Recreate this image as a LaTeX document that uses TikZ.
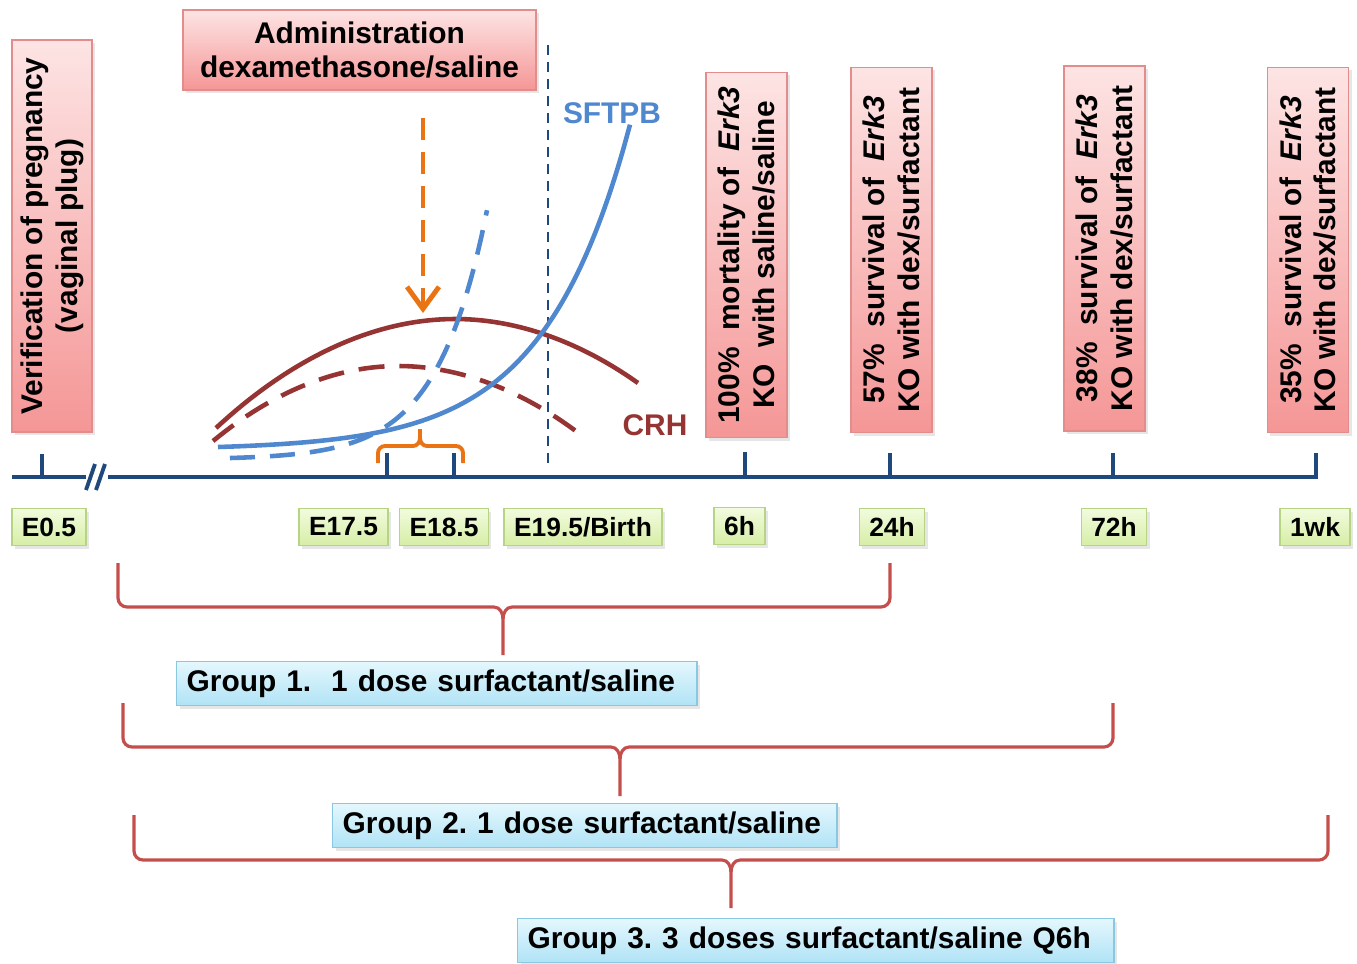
\documentclass[tikz,border=0pt]{standalone}
\usepackage{fontspec}
\setmainfont{Liberation Sans}
\frenchspacing
\usetikzlibrary{arrows.meta,shadows}
\definecolor{axisblue}{RGB}{31,73,125}
\definecolor{crhred}{RGB}{149,52,50}
\definecolor{sftblue}{RGB}{79,136,206}
\definecolor{doseorange}{RGB}{234,116,20}
\definecolor{bracered}{RGB}{196,78,76}
\definecolor{pinklite}{RGB}{253,228,228}
\definecolor{pinkdark}{RGB}{245,150,150}
\definecolor{pinkline}{RGB}{226,140,140}
\definecolor{greenlite}{RGB}{242,251,222}
\definecolor{greendark}{RGB}{214,238,166}
\definecolor{greenline}{RGB}{182,212,132}
\definecolor{bluelite}{RGB}{228,247,253}
\definecolor{bluedark}{RGB}{176,227,246}
\definecolor{blueline}{RGB}{138,200,226}
\newcommand{\boxfont}{\fontsize{8.5}{9.9}\selectfont\bfseries}
\newcommand{\dayfont}{\fontsize{7.5}{9}\selectfont\bfseries}
\tikzset{
  pinkbox/.style={draw=pinkline,top color=pinklite,bottom color=pinkdark,
    align=center,font=\boxfont,inner sep=0pt,
    drop shadow={opacity=0.2,shadow xshift=0.03cm,shadow yshift=-0.03cm}},
  outbox/.style={pinkbox,rotate=90,minimum width=3.65cm,minimum height=0.81cm},
  daybox/.style={draw=greenline,top color=greenlite,bottom color=greendark,
    font=\dayfont,inner xsep=0.1cm,inner ysep=0pt,minimum height=0.37cm,
    drop shadow={opacity=0.2,shadow xshift=0.03cm,shadow yshift=-0.03cm}},
  grpbox/.style={draw=blueline,top color=bluelite,bottom color=bluedark,
    font=\boxfont,align=left,anchor=north west,inner xsep=0.1cm,inner ysep=0pt,
    minimum height=0.44cm,
    drop shadow={opacity=0.2,shadow xshift=0.03cm,shadow yshift=-0.03cm}},
  axis/.style={axisblue,line width=1.1pt},
  grpbrace/.style={bracered,line width=0.9pt},
  dose/.style={doseorange,line width=1.4pt}
}
\begin{document}
\begin{tikzpicture}[x=0.01cm,y=-0.01cm]
\useasboundingbox (0,0) rectangle (1357,963);

% top boxes
\node[pinkbox,rotate=90,minimum width=3.92cm,minimum height=0.8cm] (verif) at (52,236) {Verification of pregnancy\\(vaginal plug)};
\node[pinkbox,minimum width=3.53cm,minimum height=0.8cm] (admin) at (359.5,50) {Administration\\dexamethasone/saline};

% outcomes
\node[outbox] (out6) at (746.5,255) {100\%\ \ mortality of\ \ \textit{Erk3}\\KO\ \ with saline/saline};
\node[outbox] (out24) at (891.5,250) {57\%\ \ survival of\ \ \textit{Erk3}\\KO with dex/surfactant};
\node[outbox] (out72) at (1104.5,248.5) {38\%\ \ survival of\ \ \textit{Erk3}\\KO with dex/surfactant};
\node[outbox] (out1wk) at (1308,250) {35\%\ \ survival of\ \ \textit{Erk3}\\KO with dex/surfactant};

% birth
\draw[axisblue,line width=0.6pt,dash pattern=on 0.1cm off 0.07cm] (548,45) -- (548,470);

% curves
\draw[crhred,line width=1.3pt] (216,428) parabola bend (455,319) (638,383);
\draw[crhred,line width=1.3pt,dash pattern=on 0.26cm off 0.15cm] (213,441) parabola bend (398,366) (585,438);
\draw[sftblue,line width=1.3pt] plot[domain=218:630,samples=60,smooth] (\x,{447-2.7*(exp((\x-218)/86)-1)});
\draw[sftblue,line width=1.3pt,dash pattern=on 0.25cm off 0.15cm] plot[domain=230:487,samples=50,smooth] (\x,{458-1.46*(exp((\x-230)/50)-1)});
\node[sftblue,font=\boxfont] (sftpb) at (612,113) {SFTPB};
\node[crhred,font=\boxfont] (crh) at (655,425) {CRH};

% dexamethasone
\coordinate (dex) at (423,118);
\coordinate (dexend) at (423,313);
\draw[dose,dash pattern=on 0.22cm off 0.12cm,-{Straight Barb[length=0.22cm,width=0.32cm]}] (dex) -- (dexend);
\draw[dose,line width=1.1pt] (378,463) -- (378,453) to[out=90,in=180] (385,446) -- (413,446) to[out=0,in=-90] (420,438) -- (420,429);
\draw[dose,line width=1.1pt] (463,463) -- (463,453) to[out=90,in=0] (456,446) -- (427,446) to[out=180,in=-90] (420,438);

% timeline
\draw[axis] (12,477) -- (86,477);
\draw[axis] (108,477) -- (1316,477) -- (1316,453);
\draw[axis] (86,490) -- (95,464) (96,490) -- (105,464);
\draw[axis] (42,477) -- (42,454);
\draw[axis] (387,477) -- (387,453);
\draw[axis] (454,477) -- (454,453);
\draw[axis] (745,477) -- (745,452);
\draw[axis] (890,477) -- (890,453);
\draw[axis] (1113,477) -- (1113,453);

\node[daybox] (e05) at (49,527) {E0.5};
\node[daybox] (e175) at (343.5,527) {E17.5};
\node[daybox] (e185) at (444,527) {E18.5};
\node[daybox] (e195) at (583,527) {E19.5/Birth};
\node[daybox] (h6) at (739.5,526) {6h};
\node[daybox] (h24) at (892,527) {24h};
\node[daybox] (h72) at (1114,527) {72h};
\node[daybox] (wk1) at (1315,527) {1wk};

% groups
\node[grpbox,text width=5cm] (g1) at (176,661) {Group 1.\ \ 1 dose surfactant/saline};
\node[grpbox,text width=4.84cm] (g2) at (332,803) {Group 2. 1 dose surfactant/saline};
\node[grpbox,text width=5.76cm] (g3) at (517,918) {Group 3. 3 doses surfactant/saline Q6h};

\coordinate (b1) at (503,619);
\draw[grpbrace] (118,563) -- (118,598) to[out=-90,in=180] (127,607) -- (494,607) to[out=0,in=90] (b1) -- ([yshift=0.06cm]b1 |- g1.north);
\draw[grpbrace] (890,563) -- (890,598) to[out=-90,in=0] (881,607) -- (512,607) to[out=180,in=90] (b1);
\coordinate (b2) at (620,759);
\draw[grpbrace] (123,703) -- (123,738) to[out=-90,in=180] (132,747) -- (611,747) to[out=0,in=90] (b2) -- ([yshift=0.07cm]b2 |- g2.north);
\draw[grpbrace] (1113,703) -- (1113,738) to[out=-90,in=0] (1104,747) -- (629,747) to[out=180,in=90] (b2);
\coordinate (b3) at (731,872);
\draw[grpbrace] (134,815) -- (134,851) to[out=-90,in=180] (143,860) -- (722,860) to[out=0,in=90] (b3) -- ([yshift=0.1cm]b3 |- g3.north);
\draw[grpbrace] (1328,815) -- (1328,851) to[out=-90,in=0] (1319,860) -- (740,860) to[out=180,in=90] (b3);
\end{tikzpicture}
\end{document}
